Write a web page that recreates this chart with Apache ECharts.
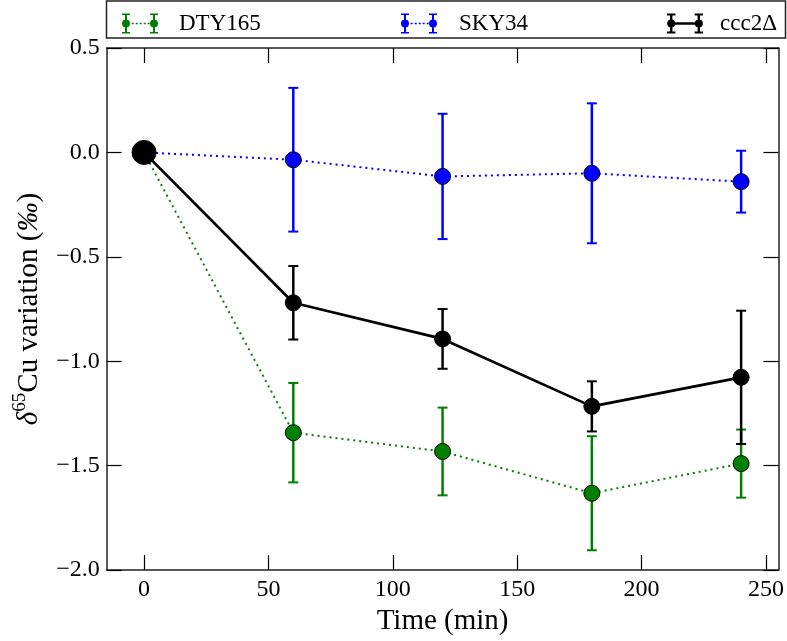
<!DOCTYPE html>
<html>
<head>
<meta charset="utf-8">
<script src="https://cdn.jsdelivr.net/npm/echarts@6/dist/echarts.min.js"></script>
<style>
html,body{margin:0;padding:0;background:#fff;}
#chart{width:787px;height:641px;}
</style>
</head>
<body>
<div id="chart"></div>
<script>
// ---- data ----
const times = [0, 60, 120, 180, 240];
const dtyMean = [0, -1.342, -1.432, -1.632, -1.490];
const dtyErr  = [0, 0.238, 0.210, 0.273, 0.163];
const skyMean = [0, -0.035, -0.115, -0.100, -0.140];
const skyErr  = [0, 0.344, 0.300, 0.335, 0.148];
const cccMean = [0, -0.720, -0.893, -1.216, -1.077];
const cccErr  = [0, 0.176, 0.143, 0.120, 0.319];
const xTicks = [0, 50, 100, 150, 200, 250];
const seriesNames = ['DTY165', 'SKY34', 'ccc2\u0394'];

const FONT = 'Liberation Serif';
const GREEN = '#008000', BLUE = '#0000ff', BLACK = '#000000';

function pts(mean) { return times.map((t, i) => [t, mean[i]]); }
function errs(mean, err) { return times.map((t, i) => [t, mean[i] - err[i], mean[i] + err[i]]); }

function errSeries(name, mean, err, color) {
  return {
    type: 'custom',
    name: name + '_err',
    xAxisIndex: 0, yAxisIndex: 0,
    data: errs(mean, err),
    encode: { x: 0, y: [1, 2] },
    silent: true,
    renderItem: function (params, api) {
      const x = api.value(0), lo = api.value(1), hi = api.value(2);
      const a = api.coord([x, lo]), b = api.coord([x, hi]);
      const cw = 5;
      const st = { stroke: color, lineWidth: 2.5 };
      return {
        type: 'group',
        children: [
          { type: 'line', shape: { x1: a[0], y1: a[1], x2: b[0], y2: b[1] }, style: st },
          { type: 'line', shape: { x1: a[0] - cw, y1: a[1], x2: a[0] + cw, y2: a[1] }, style: { stroke: color, lineWidth: 2 } },
          { type: 'line', shape: { x1: b[0] - cw, y1: b[1], x2: b[0] + cw, y2: b[1] }, style: { stroke: color, lineWidth: 2 } }
        ]
      };
    }
  };
}

function lineSeries(name, mean, color, dotted, width) {
  return {
    type: 'line',
    name: name,
    xAxisIndex: 0, yAxisIndex: 0,
    data: pts(mean),
    symbol: 'circle',
    symbolSize: 16,
    lineStyle: { color: color, width: width, type: dotted ? [2, 4] : 'solid' },
    itemStyle: { color: color, borderColor: '#000', borderWidth: 1 },
    emphasis: { disabled: true }
  };
}

// legend icons (errorbar glyphs)
const circ = (cx, cy, r) => `M${cx - r} ${cy} a${r} ${r} 0 1 1 ${2 * r} 0 a${r} ${r} 0 1 1 ${-2 * r} 0 z `;
const rect = (x, y, w, h) => `M${x} ${y} h${w} v${h} h${-w} z `;
function dottedIcon() {
  let p = '';
  p += rect(3, 0, 2, 20) + rect(0, 0, 8, 1.6) + rect(0, 18.4, 8, 1.6) + circ(4, 10, 4);
  p += rect(31, 0, 2, 20) + rect(28, 0, 8, 1.6) + rect(28, 18.4, 8, 1.6) + circ(32, 10, 4);
  [10, 14, 18, 22, 26].forEach(x => { p += rect(x - 0.3, 9.2, 2, 1.6); });
  return 'path://' + p;
}
function solidIcon() {
  let p = '';
  p += rect(3, 0, 2.4, 20) + rect(0, 0, 8.4, 2) + rect(0, 18, 8.4, 2) + circ(4.2, 10, 4);
  p += rect(30.6, 0, 2.4, 20) + rect(27.6, 0, 8.4, 2) + rect(27.6, 18, 8.4, 2) + circ(31.8, 10, 4);
  p += rect(6, 8.7, 24, 2.6);
  return 'path://' + p;
}

function legendAt(left, name, icon, pad) {
  return {
    left: left, top: 7,
    data: [{ name: name, icon: icon }],
    itemWidth: 36, itemHeight: 20,
    selectedMode: false,
    itemStyle: { borderWidth: 0 },
    textStyle: { fontFamily: FONT, fontSize: 23, color: '#000', padding: [0, 0, 0, pad] }
  };
}

const chart = echarts.init(document.getElementById('chart'), null, { renderer: 'canvas' });
const axisLineStyle = { color: '#222', width: 1.5 };
const tickStyle = { color: '#000', width: 1.2 };

chart.setOption({
  animation: false,
  backgroundColor: '#fff',
  grid: { left: 106.7, right: 5, top: 48, bottom: 69.7, containLabel: false },
  legend: [
    legendAt(117, seriesNames[0], dottedIcon(), 16),
    legendAt(396, seriesNames[1], dottedIcon(), 17),
    legendAt(662, seriesNames[2], solidIcon(), 12)
  ],
  graphic: [{
    type: 'rect', silent: true, z: 100,
    shape: { x: 106.5, y: 1, width: 679, height: 37 },
    style: { fill: 'none', stroke: '#222', lineWidth: 1.5 }
  }],
  xAxis: [{
    type: 'value', min: -15, max: 255, position: 'bottom',
    name: 'Time (min)', nameLocation: 'middle', nameGap: 35,
    nameTextStyle: { fontFamily: FONT, fontSize: 29, color: '#000' },
    axisLine: { show: true, onZero: false, lineStyle: axisLineStyle },
    axisTick: { show: true, inside: true, length: 15, customValues: xTicks, lineStyle: tickStyle },
    axisLabel: { customValues: xTicks, margin: 8, fontFamily: FONT, fontSize: 24, color: '#000' },
    splitLine: { show: false }
  }, {
    type: 'value', min: -15, max: 255, position: 'top',
    axisLine: { show: true, onZero: false, lineStyle: axisLineStyle },
    axisTick: { show: true, inside: true, length: 15, customValues: xTicks, lineStyle: tickStyle },
    axisLabel: { show: false },
    splitLine: { show: false }
  }],
  yAxis: [{
    type: 'value', min: -2, max: 0.5, interval: 0.5, position: 'left',
    name: '{i|\u03b4}{s|65}{n|Cu variation (}{i|\u2030}{n|)}',
    nameLocation: 'middle', nameGap: 63,
    nameTextStyle: {
      fontFamily: FONT, fontSize: 29, color: '#000',
      rich: {
        i: { fontFamily: FONT, fontSize: 29, fontStyle: 'italic', color: '#000', lineHeight: 33, verticalAlign: 'bottom' },
        s: { fontFamily: FONT, fontSize: 19, color: '#000', lineHeight: 33, verticalAlign: 'top' },
        n: { fontFamily: FONT, fontSize: 29, color: '#000', lineHeight: 33, verticalAlign: 'bottom' }
      }
    },
    axisLine: { show: true, onZero: false, lineStyle: axisLineStyle },
    axisTick: { show: true, inside: true, length: 15, lineStyle: tickStyle },
    axisLabel: {
      margin: 7, fontFamily: FONT, fontSize: 24, color: '#000',
      formatter: v => (v < 0 ? '\u2212' : '') + Math.abs(v).toFixed(1)
    },
    splitLine: { show: false }
  }, {
    type: 'value', min: -2, max: 0.5, interval: 0.5, position: 'right',
    axisLine: { show: true, onZero: false, lineStyle: axisLineStyle },
    axisTick: { show: true, inside: true, length: 15, lineStyle: tickStyle },
    axisLabel: { show: false },
    splitLine: { show: false }
  }],
  series: [
    errSeries(seriesNames[0], dtyMean, dtyErr, GREEN),
    lineSeries(seriesNames[0], dtyMean, GREEN, true, 2),
    errSeries(seriesNames[1], skyMean, skyErr, BLUE),
    lineSeries(seriesNames[1], skyMean, BLUE, true, 2),
    errSeries(seriesNames[2], cccMean, cccErr, BLACK),
    (function () {
      const s = lineSeries(seriesNames[2], cccMean, BLACK, false, 2.7);
      s.data = pts(cccMean).map((p, i) => i === 0 ? { value: p, symbolSize: 24 } : p);
      return s;
    })()
  ]
});
</script>
</body>
</html>
